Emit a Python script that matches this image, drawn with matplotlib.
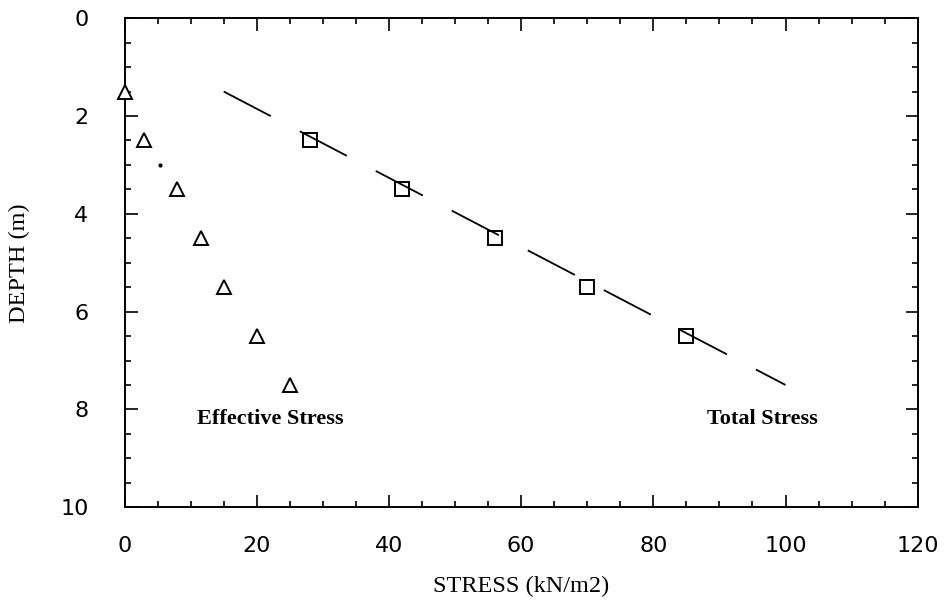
import matplotlib
matplotlib.use("Agg")
import numpy as np
from matplotlib import pyplot as plt
from matplotlib.ticker import MultipleLocator

# effective stress points (triangles)
eff_stress = [0, 3, 8, 11.5, 15, 20, 25]
eff_depth = [1.5, 2.5, 3.5, 4.5, 5.5, 6.5, 7.5]

# total stress points (squares)
tot_stress = [28, 42, 56, 70, 85]
tot_depth = [2.5, 3.5, 4.5, 5.5, 6.5]

# total stress trend line
line_stress = [15, 100]
line_depth = [1.5, 7.5]

# stray dot in the scan
dot_stress = [5.3]
dot_depth = [3.0]

x_ticks = [0, 20, 40, 60, 80, 100, 120]
y_ticks = [0, 2, 4, 6, 8, 10]

fig = plt.figure(figsize=(9.51, 6.06), dpi=100)
ax = fig.add_axes([0.131, 0.163, 0.834, 0.807])

ax.plot(line_stress, line_depth, color="black", lw=1.3, dashes=(29.4, 18.1))
ax.plot(eff_stress, eff_depth, linestyle="none", marker="^", ms=10,
        mfc="white", mec="black", mew=1.4, clip_on=False, zorder=5)
ax.plot(tot_stress, tot_depth, linestyle="none", marker="s", ms=10,
        mfc="none", mec="black", mew=1.4, zorder=5)
ax.plot(dot_stress, dot_depth, linestyle="none", marker="o", ms=2,
        color="black")

ax.set_xlim(0, 120)
ax.set_ylim(10, 0)
ax.set_xticks(x_ticks)
ax.set_yticks(y_ticks)
ax.xaxis.set_minor_locator(MultipleLocator(5))
ax.yaxis.set_minor_locator(MultipleLocator(0.5))
ax.tick_params(which="both", direction="in", top=True, right=True, width=1.2)
ax.tick_params(which="major", length=9)
ax.tick_params(which="minor", length=4.5)
ax.tick_params(axis="x", which="major", pad=21, labelsize=16)
ax.tick_params(axis="y", which="major", pad=26, labelsize=16)
for sp in ax.spines.values():
    sp.set_linewidth(1.4)

serif = ["Liberation Serif", "DejaVu Serif"]
ax.set_xlabel("STRESS (kN/m2)", family=serif, fontsize=17.5, labelpad=14)
ax.set_ylabel("DEPTH (m)", family=serif, fontsize=17.5, labelpad=22)

ax.text(22, 8.2, "Effective Stress", family=serif, fontsize=16,
        fontweight="bold", ha="center", va="center")
ax.text(96.5, 8.2, "Total Stress", family=serif, fontsize=16,
        fontweight="bold", ha="center", va="center")

fig.savefig("out.png", dpi=100)
